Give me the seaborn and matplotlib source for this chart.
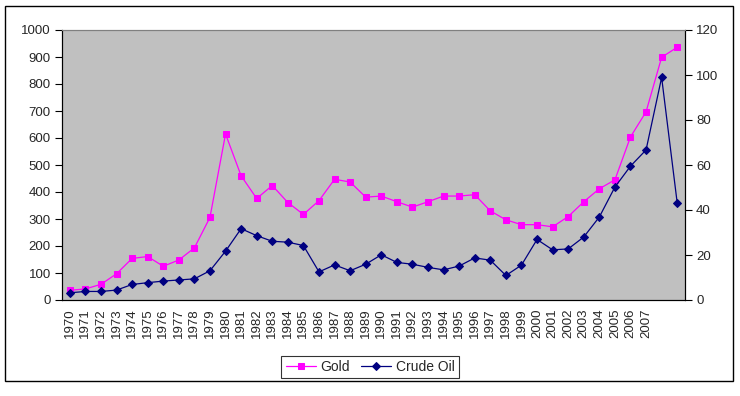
import numpy as np
import pandas as pd
import matplotlib
matplotlib.use("Agg")
import matplotlib.pyplot as plt
import seaborn as sns
from matplotlib.patches import Rectangle

years = list(range(1970, 2010))
year_labels = [str(y) for y in range(1970, 2008)] + ["", ""]
gold = [36, 41, 58, 97, 154, 161, 125, 148, 193, 306, 615, 460, 376, 424, 361, 317, 368, 447, 437, 381,
        385, 364, 344, 364, 385, 385, 390, 330, 297, 279, 279, 271, 309, 364, 412, 445, 604, 697, 899, 936]
oil = [3.2, 3.8, 3.8, 4.4, 6.9, 7.7, 8.4, 8.9, 9.4, 13.0, 21.7, 31.7, 28.6, 26.1, 25.7, 24.2, 12.5, 15.6, 13.0, 15.9,
       20.1, 16.7, 15.9, 14.5, 13.4, 15.1, 18.7, 17.7, 10.9, 15.5, 26.9, 22.3, 22.7, 28.0, 36.9, 50.2, 59.5, 66.7, 98.9, 43.1]

sns.set_theme(style="white")
plt.rcParams['font.family'] = ['Liberation Sans', 'DejaVu Sans']

df = pd.DataFrame({"pos": np.arange(len(years)), "year": years, "gold": gold, "oil": oil})

W, H = 740, 396
fig = plt.figure(figsize=(W / 100, H / 100), dpi=100)
fig.patch.set_facecolor("white")
# outer border
fig.add_artist(Rectangle((5 / W, 1 - 381 / H), (733 - 5) / W, (381 - 6) / H, transform=fig.transFigure,
                         fill=False, edgecolor="black", linewidth=1))

left, right, top, bottom = 62, 685, 30, 300
ax = fig.add_axes([left / W, 1 - bottom / H, (right - left) / W, (bottom - top) / H])
ax.set_facecolor("#C0C0C0")

sns.lineplot(data=df, x="pos", y="gold", ax=ax, color="#FF00FF", marker="s", markersize=4.6,
             markeredgecolor="#FF00FF", linewidth=0.9, label="Gold", legend=False)
ax2 = ax.twinx()
sns.lineplot(data=df, x="pos", y="oil", ax=ax2, color="#000080", marker="D", markersize=3.8,
             markeredgecolor="#000080", linewidth=0.9, label="Crude Oil", legend=False)

ax.set_xlim(-0.5, len(years) - 0.5)
ax.set_ylim(0, 1000)
ax2.set_ylim(0, 120)
ax.set_yticks(range(0, 1001, 100))
ax2.set_yticks(range(0, 121, 20))
ax.set_xticks(np.arange(len(years)))
ax.set_xticklabels(year_labels, rotation=90, fontsize=9.5)
ax.set_xticks(np.arange(len(years) + 1) - 0.5, minor=True)
ax.tick_params(axis="x", which="major", length=0, pad=6)
ax.tick_params(axis="x", which="minor", length=6, direction="inout", width=0.8, color="black")
ax.tick_params(axis="y", length=5, width=0.8, direction="out", color="black", labelsize=9.5, pad=3, left=True)
ax2.tick_params(axis="y", length=5, width=0.8, direction="out", color="black", labelsize=9.5, pad=3, right=True)
ax.set_xlabel("")
ax.set_ylabel("")
ax2.set_ylabel("")
ax.grid(False)
ax2.grid(False)

for a in (ax, ax2):
    for s in a.spines.values():
        s.set_visible(True)
        s.set_linewidth(0.8)
    a.spines["top"].set_color("#808080")
    a.spines["left"].set_color("black")
    a.spines["bottom"].set_color("black")
    a.spines["right"].set_color("black")

h1, l1 = ax.get_legend_handles_labels()
h2, l2 = ax2.get_legend_handles_labels()
leg = fig.legend(h1 + h2, l1 + l2, loc="center", bbox_to_anchor=(370 / W, 1 - 367 / H), ncol=2,
                 frameon=True, fancybox=False, edgecolor="black", fontsize=10, handlelength=2.2,
                 handletextpad=0.3, columnspacing=0.8, borderpad=0.3, numpoints=1)
leg.get_frame().set_linewidth(0.8)

fig.savefig("out.png", dpi=100, facecolor="white")
